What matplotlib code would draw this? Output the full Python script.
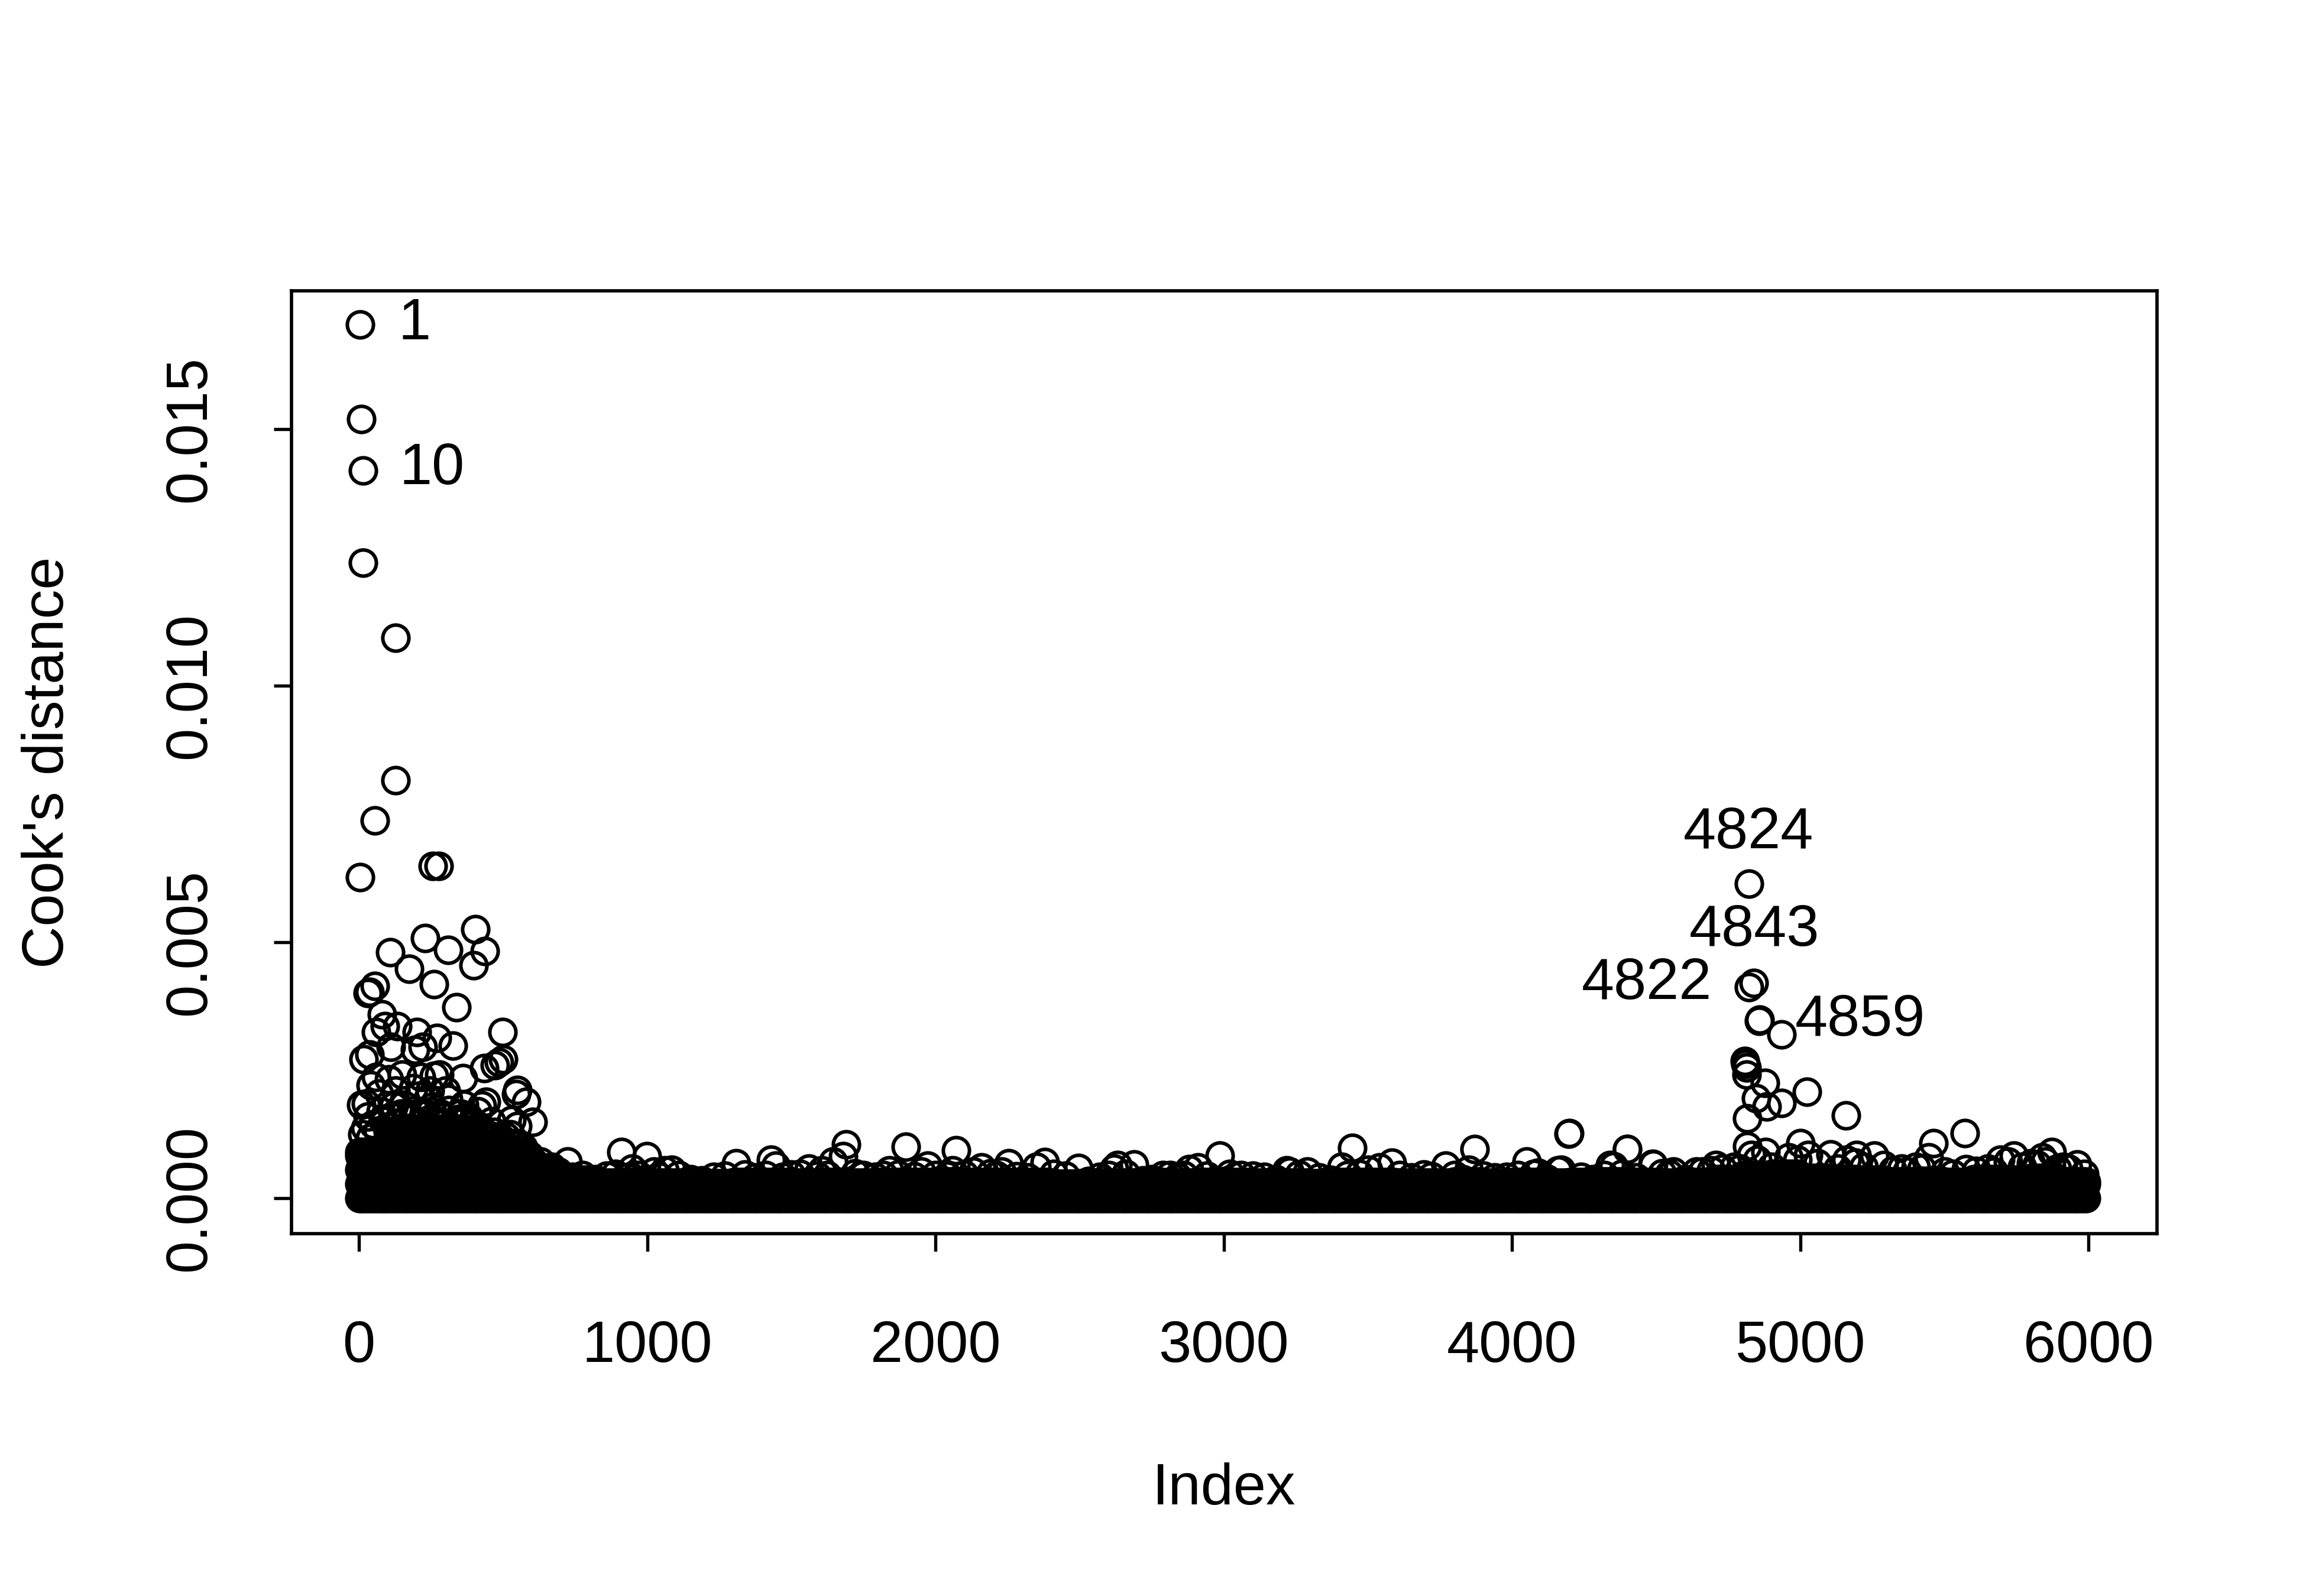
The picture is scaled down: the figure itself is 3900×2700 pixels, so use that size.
import numpy as np
import matplotlib
matplotlib.use("Agg")
import matplotlib.pyplot as plt

plt.rcParams['font.family'] = ['Liberation Sans', 'DejaVu Sans']

# Individually readable points: observation index and Cook's distance
left_index = [4, 9, 14, 14, 126, 126, 55, 4, 256, 276,
              108, 174, 229, 260, 310, 339, 403, 436, 398, 498,
              56, 36, 30, 80, 90, 60, 134, 200, 270, 325, 222, 195, 110, 17, 36,
              434, 471, 500, 486, 550, 581, 603, 545, 360, 427, 441, 530, 550,
              149, 60, 40, 105, 9, 215, 260, 278, 205, 310, 155, 240, 365,
              30, 75, 120, 170, 250, 290, 335, 380, 420, 460, 510, 570, 3]
left_value = [.01704, .0152, .0142, .0124, .01093, .00815, .00737, .00626, .00648, .00648,
              .0048, .00448, .00508, .00418, .00485, .00373, .00525, .00482, .00455, .00325,
              .00414, .00403, .00401, .00359, .00336, .00324, .00336, .00325, .00313, .00298, .00296, .00290, .00296, .00272, .00281,
              .00254, .0026, .00272, .00266, .00212, .00188, .00149, .00203, .00235, .00182, .00188, .00153, .00141,
              .00241, .00237, .00221, .00232, .00183, .00237, .00239, .00242, .002, .00194, .00183, .00195, .00183,
              .0016, .0017, .0018, .0016, .0017, .0016, .0015, .0016, .0014, .0015, .0012, .001, .00081]

cluster_index = [12, 22, 38, 50, 66, 84, 98, 116, 132, 146, 160, 182, 192, 212, 226, 238, 252, 268, 282,
                 298, 312, 328, 346, 358, 372, 388, 404, 418, 432, 448, 462, 478, 492, 506, 522, 538,
                 556, 574, 590, 612, 630, 648, 668, 690, 25, 70, 128, 188, 245, 302, 352, 412, 470, 525]
cluster_value = [.00125, .00138, .00118, .00145, .00132, .00152, .0014, .00158, .00146, .00165, .00136,
                 .00155, .00172, .00148, .00168, .00142, .00178, .00152, .00165, .00146, .00172, .00138,
                 .00155, .00148, .00132, .00142, .00125, .00138, .00128, .00115, .00122, .00108, .00118,
                 .00102, .00095, .00108, .00088, .00092, .00078, .00068, .00072, .00058, .00062, .00052,
                 .00185, .00205, .0021, .00215, .0021, .0021, .00165, .0017, .0013, .00125]

right_index = [4821, 4821, 4839, 4857, 4859, 4935, 4807, 4810, 4813, 4813, 4877, 4846, 4935, 5022, 4883, 4815,
               5159, 5570, 4399, 4196, 5462, 4815, 5000, 5105, 5257, 5195, 5160, 5871, 5960, 5840, 5741,
               5693, 5575, 5290, 5445, 4487, 4340, 4707, 4880, 4960, 5027, 5190, 5850, 5720, 4830, 4850,
               5930, 5800, 5400, 5350]
right_value = [.00614, .00412, .0042, .00346, .00349, .0032, .00268, .00262, .00255, .00241, .00225, .00195, .00186, .00208, .00179, .00156,
               .00162, .00127, .00096, .00126, .00108, .00102, .00108, .00086, .00083, .00085, .00075, .0009, .00066, .0008, .00083,
               .00075, .00057, .00065, .0008, .00067, .00065, .00065, .0009, .0008, .00085, .0007, .00072, .00072, .00085, .00075,
               .00058, .00068, .00062, .00058]

ridge_index = [723, 910, 998, 948, 1060, 1024, 1308, 1429, 1445, 1606, 1690, 1680, 1645, 1897, 2071, 1972,
               2160, 2254, 2378, 2495, 2631, 2688, 2790, 2910, 2986, 2814, 3218, 3229, 3446, 3409, 3582,
               3871, 3769, 3693, 4051, 4199, 4160, 4399, 4353, 4490, 4560, 1085, 1500, 1840, 2130, 2350,
               2620, 2880, 3290, 3500, 3850, 4090, 4170, 4545, 4660, 3540, 2060, 1560, 1950, 2230]
ridge_value = [.00072, .00091, .00082, .00058, .00055, .00052, .00069, .00075, .00064, .00055, .00106, .00082, .00072, .00101, .00094, .00064,
               .0006, .00068, .00071, .00059, .00065, .00066, .00046, .00061, .00083, .00046, .00055, .00052, .00098, .00062, .0007,
               .00096, .00064, .00047, .00072, .00127, .00055, .00096, .00063, .00066, .00052, .00056, .00047, .00055, .00052, .00062,
               .00058, .00057, .00052, .00056, .00056, .0005, .00056, .00048, .00052, .0006, .00055, .00058, .00052, .00052]

# Low bumps along the top edge of the solid band
bump_index = [740, 775, 820, 860, 890, 930, 970, 1040, 1110, 1150, 1190, 1230, 1270, 1340, 1375, 1410,
              1470, 1530, 1590, 1625, 1720, 1750, 1790, 1820, 1870, 1925, 2000, 2040, 2100, 2190, 2210,
              2280, 2320, 2410, 2450, 2530, 2570, 2600, 2660, 2720, 2750, 2840, 2860, 2940, 3020, 3060,
              3100, 3140, 3180, 3260, 3330, 3370, 3430, 3470, 3610, 3650, 3720, 3800, 3830, 3900, 3940,
              3980, 4020, 4075, 4120, 4240, 4280, 4320, 4380, 4430, 4520, 4600, 4640, 4690, 4730, 4770,
              4790, 4900, 4990, 5060, 5130, 5220, 5320, 5370, 5420, 5500, 5530, 5610, 5650, 5670, 5770,
              5820, 5890, 5910, 5985]
bump_value = [.00042, .00046, .00038, .00044, .00048, .00041, .00045, .00043, .00046, .00038, .00035, .00042,
              .00044, .00047, .00041, .00045, .00042, .00048, .00044, .00046, .00049, .00046, .00042, .00045,
              .00047, .00043, .00046, .00044, .00047, .00049, .00045, .00043, .00041, .00048, .00044, .00034,
              .00042, .00046, .00048, .00035, .00038, .00042, .00046, .00044, .00048, .00046, .00044, .00042,
              .00038, .00047, .00041, .00036, .00045, .00048, .00046, .00041, .00043, .00046, .00038, .00044,
              .00041, .00042, .00046, .00048, .00039, .00042, .00038, .00045, .00048, .00041, .00049, .00038,
              .00052, .00055, .00058, .00062, .00058, .00062, .00075, .00068, .00058, .00062, .00055, .00052,
              .00058, .00052, .00048, .00054, .00058, .00052, .00062, .00066, .00058, .00062, .00048]

# Upper edge of the solid band, read once per 100 observations (units of 1e-4)
band_top_per_100 = [9, 13, 13.5, 12.5, 10.5, 8.5, 5, 3.6, 3.1, 3.2,
                    3.0, 3.0, 2.9, 3.2, 3.2, 3.1, 3.2, 3.1, 3.2, 3.2,
                    3.3, 3.2, 3.2, 3.2, 2.8, 2.9, 3.1, 3.2, 3.0, 3.2,
                    3.2, 3.0, 3.0, 2.9, 3.2, 3.2, 3.0, 3.0, 3.3, 3.1,
                    3.2, 3.0, 3.2, 3.3, 3.2, 3.1, 3.2, 3.8, 4.5, 4.8,
                    4.0, 3.8, 3.6, 3.3, 3.4, 3.2, 3.8, 3.6, 4.0, 3.3]
band_levels = [0.0, 0.00028, 0.00056, 0.00084, 0.00110]
band_step = 10

x_ticks = [0, 1000, 2000, 3000, 4000, 5000, 6000]
y_ticks = [0.000, 0.005, 0.010, 0.015]
y_labels = ['0.000', '0.005', '0.010', '0.015']

label_text = ['1', '10', '4824', '4843', '4822', '4859']
label_index = [136, 140, 4820, 4840, 4467, 5208]
label_value = [.01705, .01423, .00712, .00522, .00419, .00347]
label_align = ['left', 'left', 'center', 'center', 'center', 'center']

W, H = 3900, 2700
fig = plt.figure(figsize=(13, 9), dpi=300, facecolor='white')
ax = fig.add_axes([493 / W, 1 - 2087 / H, (3648 - 493) / W, (2087 - 492) / H])

style = dict(ls='none', marker='o', mfc='none', mec='black', ms=10.6, mew=1.45, clip_on=True)

band_index = np.arange(1, 6001, band_step)
band_top = np.repeat(np.array(band_top_per_100) * 1e-4, 100)[band_index - 1]
for level in band_levels:
    keep = band_top >= level
    ax.plot(band_index[keep], np.full(keep.sum(), level), **style)
ax.plot(band_index, band_top, **style)

ax.plot(bump_index, bump_value, **style)
ax.plot(cluster_index, cluster_value, **style)
ax.plot(left_index, left_value, **style)
ax.plot(right_index, right_value, **style)
ax.plot(ridge_index, ridge_value, **style)

for t, xv, yv, ha in zip(label_text, label_index, label_value, label_align):
    ax.text(xv, yv, t, fontsize=23.8, ha=ha, va='center', color='black')

ax.set_xlim(-234, 6237)
ax.set_ylim(-0.000686, 0.0177)
ax.set_xticks(x_ticks)
ax.set_xticklabels([str(v) for v in x_ticks])
ax.set_yticks(y_ticks)
ax.set_yticklabels(y_labels, rotation=90, va='center')
ax.tick_params(axis='both', direction='out', length=7.2, width=1.3, labelsize=23.8, color='black')
ax.tick_params(axis='x', pad=27.8)
ax.tick_params(axis='y', pad=23)
for s in ax.spines.values():
    s.set_linewidth(1.35)

fig.text(2070 / W, 1 - 2519 / H, 'Index', fontsize=23.8, ha='center', va='center')
fig.text(82 / W, 1 - 1290 / H, "Cook's distance", fontsize=23.8, ha='center', va='center', rotation=90)

fig.savefig('out.png', dpi=300, facecolor='white')
